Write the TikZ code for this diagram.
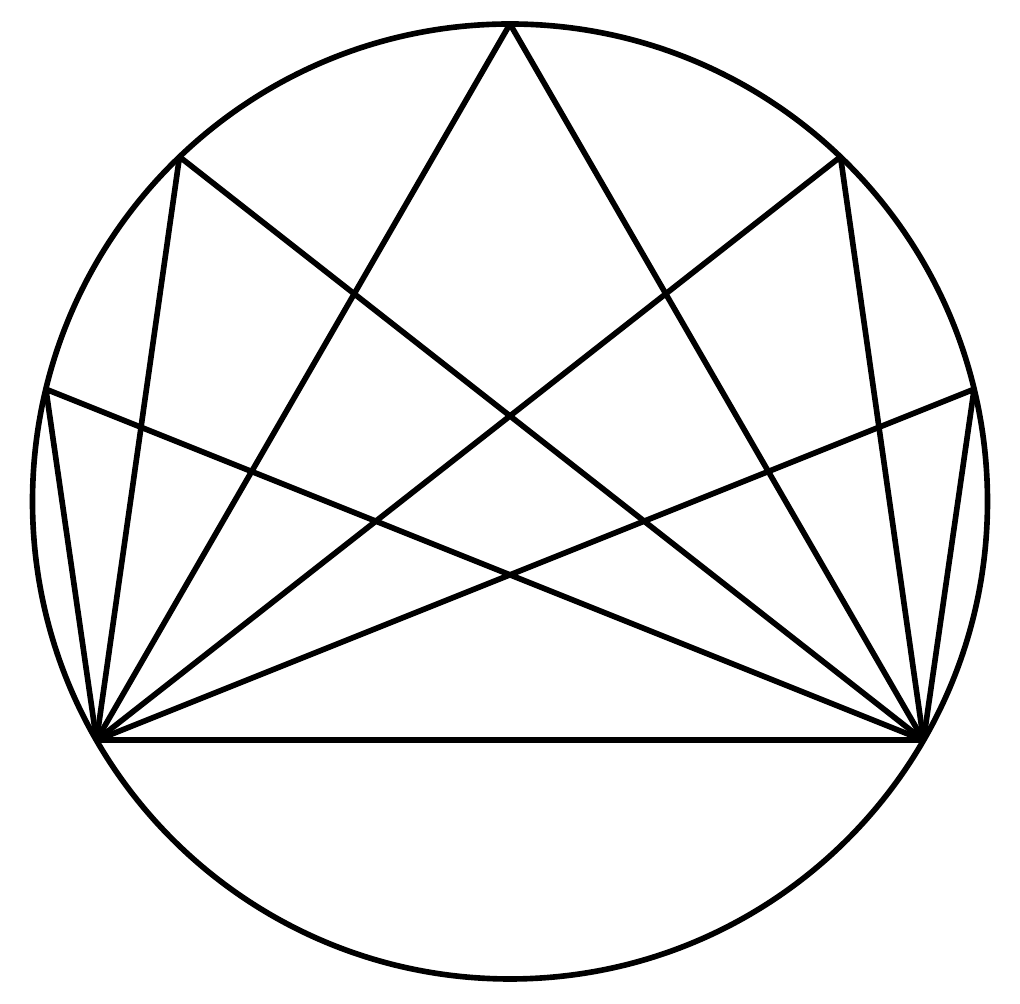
\documentclass[tikz,border=0pt]{standalone}
\begin{document}
\begin{tikzpicture}[x=0.01cm,y=-0.01cm,
  chord/.style={line width=1.6pt,line join=round,black}]
\useasboundingbox (0,0) rectangle (1020,1004);
\coordinate (O) at (510,501.5);
\coordinate (A) at (96.5,740.25);
\coordinate (B) at (923.5,740.25);
\coordinate (P1) at (510,24);
\coordinate (P2) at (179.5,156.8);
\coordinate (P3) at (840.5,156.8);
\coordinate (P4) at (45.9,389.2);
\coordinate (P5) at (974.1,389.2);
\draw[chord] (O) circle[radius=477.5];
\draw[chord] (A) -- (B);
\foreach \p in {P1,P2,P3,P4,P5} {
  \draw[chord] (A) -- (\p) -- (B);
}
\end{tikzpicture}
\end{document}
